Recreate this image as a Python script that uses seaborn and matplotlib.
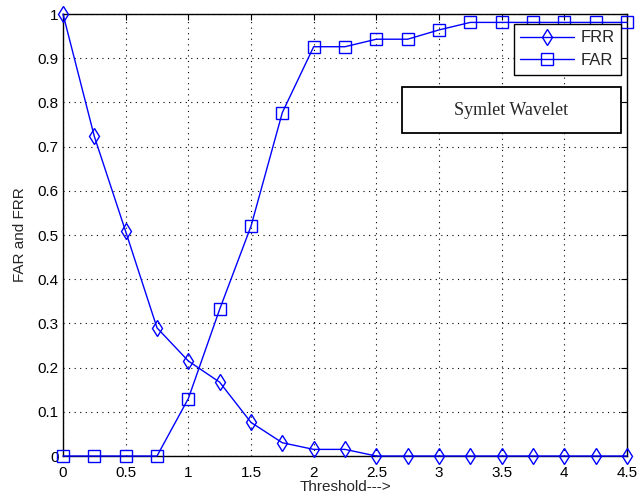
import matplotlib
matplotlib.use("Agg")
import matplotlib.pyplot as plt
import seaborn as sns
import pandas as pd
from matplotlib.patches import Rectangle

threshold = [0, 0.25, 0.5, 0.75, 1.0, 1.25, 1.5, 1.75, 2.0, 2.25, 2.5, 2.75, 3.0, 3.25, 3.5, 3.75, 4.0, 4.25, 4.5]
frr = [1.0, 0.723, 0.508, 0.290, 0.215, 0.167, 0.076, 0.030, 0.015, 0.015, 0, 0, 0, 0, 0, 0, 0, 0, 0]
far = [0, 0, 0, 0, 0.130, 0.332, 0.520, 0.777, 0.926, 0.926, 0.943, 0.943, 0.964, 0.981, 0.981, 0.981, 0.981, 0.981, 0.981]
xticks = [0, 0.5, 1, 1.5, 2, 2.5, 3, 3.5, 4, 4.5]
yticks = [0, 0.1, 0.2, 0.3, 0.4, 0.5, 0.6, 0.7, 0.8, 0.9, 1]

sns.set_style("white")
plt.rcParams['font.family'] = ['Liberation Sans', 'DejaVu Sans']

fig = plt.figure(figsize=(6.37, 5.04), dpi=100)
ax = fig.add_axes([0.0989, 0.0952, 0.8854, 0.8770])

df_frr = pd.DataFrame({"x": threshold, "y": frr})
df_far = pd.DataFrame({"x": threshold, "y": far})
blue = "#0000ff"
sns.lineplot(data=df_frr, x="x", y="y", ax=ax, color=blue, lw=1, marker="d",
             markersize=8, markerfacecolor="none", markeredgecolor=blue, markeredgewidth=1,
             label="FRR", clip_on=False, zorder=3)
sns.lineplot(data=df_far, x="x", y="y", ax=ax, color=blue, lw=1, marker="s",
             markersize=9, markerfacecolor="none", markeredgecolor=blue, markeredgewidth=1,
             label="FAR", clip_on=False, zorder=3)

ax.set_xlim(0, 4.5)
ax.set_ylim(0, 1)
ax.set_xticks(xticks)
ax.set_xticklabels([f"{t:g}" for t in xticks])
ax.set_yticks(yticks)
ax.set_yticklabels([f"{t:g}" for t in yticks])
ax.tick_params(direction="in", top=True, right=True, length=4, labelsize=11, colors="black", pad=3)
ax.tick_params(axis="x", pad=7)
ax.grid(True, linestyle=(0, (1, 4)), color="black", lw=0.8)
for s in ax.spines.values():
    s.set_color("black")
    s.set_linewidth(1)
ax.set_xlabel("Threshold--->", fontsize=11, labelpad=0)
ax.set_ylabel("FAR and FRR", fontsize=11, labelpad=8)

leg = ax.legend(loc="upper right", bbox_to_anchor=(0.9894, 0.978), fontsize=12, frameon=True,
                fancybox=False, edgecolor="black", framealpha=1, borderpad=0.4,
                handlelength=3.2, handletextpad=0.4, borderaxespad=0, labelspacing=0.45)
leg.get_frame().set_linewidth(1)
leg.set_zorder(10)

x0, x1 = 402, 621
y0, y1 = 87, 133
axx0, axx1, axy0, axy1 = 63, 627, 14, 456
rx0 = (x0 - axx0) / (axx1 - axx0)
rx1 = (x1 - axx0) / (axx1 - axx0)
ry1 = 1 - (y0 - axy0) / (axy1 - axy0)
ry0 = 1 - (y1 - axy0) / (axy1 - axy0)
ax.add_patch(Rectangle((rx0, ry0), rx1 - rx0, ry1 - ry0, transform=ax.transAxes,
                       fc="white", ec="black", lw=1.3, zorder=5))
ax.text((rx0 + rx1) / 2, (ry0 + ry1) / 2, "Symlet Wavelet", transform=ax.transAxes,
        ha="center", va="center", fontsize=13, family=["Liberation Serif", "DejaVu Serif"], zorder=6)

fig.savefig("out.png", dpi=100)
